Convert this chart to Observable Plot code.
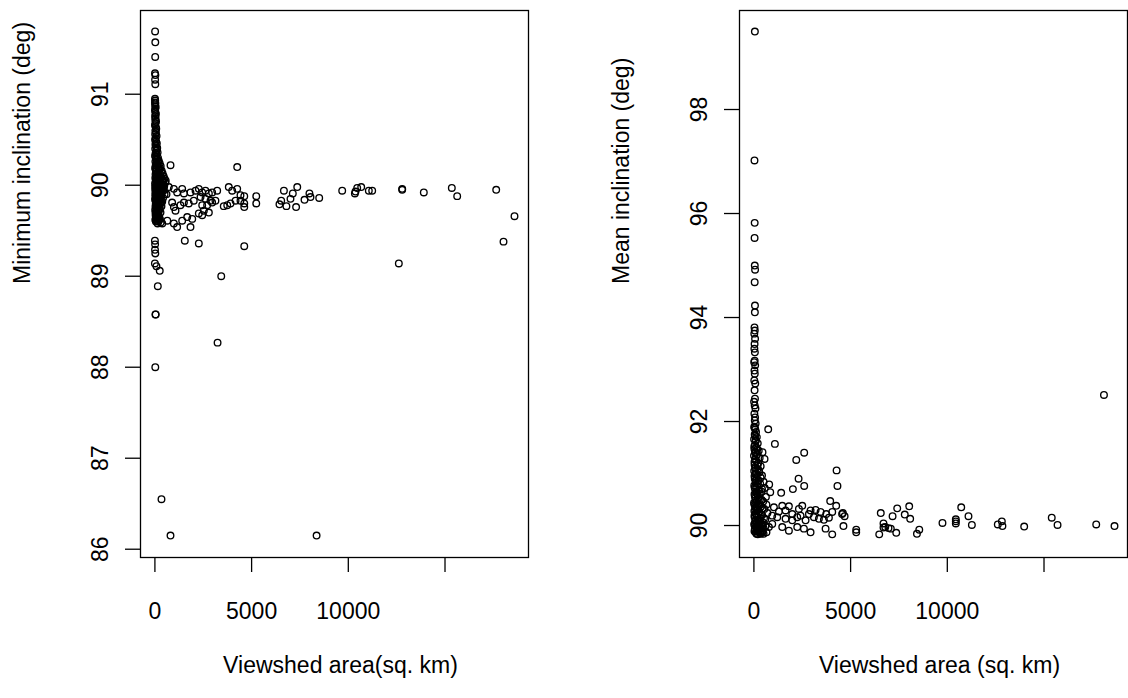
<!DOCTYPE html>
<html>
<head>
<meta charset="utf-8">
<script src="https://cdn.jsdelivr.net/npm/d3@7"></script>
<script src="https://cdn.jsdelivr.net/npm/@observablehq/plot@0.6"></script>
<style>
  html, body { margin: 0; padding: 0; background: #fff; }
  #wrap { display: flex; width: 1128px; height: 698px; overflow: hidden; }
</style>
</head>
<body>
<div id="wrap"></div>
<script>
// ---------- data (viewshed area in sq. km, inclination in degrees) ----------
const xTicks = [0, 5000, 10000, 15000];
const xTickLabels = [0, 5000, 10000];
const minTicks = [86, 87, 88, 89, 90, 91];
const meanTicks = [90, 92, 94, 96, 98];

// Left panel: dense column near zero area
const minColumn = [
  [5,90.95],[15,90.93],[8,90.91],[25,90.9],[12,90.88],[40,90.86],[20,90.84],[6,90.82],[30,90.8],[50,90.78],
  [10,90.76],[35,90.74],[18,90.72],[60,90.7],[28,90.68],[4,90.66],[45,90.64],[70,90.62],[22,90.6],[55,90.58],
  [14,90.56],[85,90.54],[38,90.52],[9,90.5],[65,90.48],[100,90.46],[26,90.45],[48,90.43],[120,90.41],[16,90.4],
  [75,90.38],[140,90.36],[34,90.35],[95,90.33],[7,90.32],[160,90.3],[58,90.29],[110,90.28],[200,90.27],[24,90.26],
  [80,90.25],[250,90.24],[130,90.23],[42,90.22],[300,90.21],[170,90.2],[11,90.19],[90,90.18],[220,90.17],[350,90.16],
  [60,90.15],[150,90.14],[400,90.13],[32,90.12],[270,90.12],[190,90.11],[450,90.1],[70,90.1],[120,90.09],[330,90.08],
  [20,90.08],[500,90.07],[240,90.06],[100,90.06],[380,90.05],[45,90.05],[160,90.04],[540,90.03],[290,90.03],[8,90.02],
  [210,90.02],[420,90.01],[75,90.01],[130,90.0],[350,90.0],[30,89.99],[480,89.99],[260,89.98],[180,89.98],[55,89.97],
  [400,89.97],[110,89.96],[310,89.96],[15,89.95],[230,89.95],[150,89.94],[440,89.94],[85,89.93],[370,89.93],[200,89.92],
  [40,89.92],[280,89.91],[120,89.9],[500,89.9],[60,89.89],[330,89.89],[170,89.88],[25,89.87],[250,89.87],[420,89.86],
  [95,89.86],[140,89.85],[300,89.84],[10,89.84],[220,89.83],[70,89.82],[380,89.82],[160,89.81],[45,89.8],[270,89.8],
  [110,89.79],[200,89.78],[30,89.77],[340,89.77],[130,89.76],[80,89.75],[240,89.74],[15,89.73],[180,89.72],[55,89.71],
  [290,89.7],[100,89.69],[150,89.68],[35,89.67],[210,89.66],[70,89.65],[120,89.64],[260,89.63],[20,89.62],[90,89.61],
  [180,89.6],[50,89.6],[300,89.59],[140,89.58],[380,89.58],[640,89.61],[600,89.9],[560,90.05],
  [60,90.31],[180,90.26],[90,90.21],[260,90.19],[40,90.17],[320,90.14],[130,90.13],[210,90.09],[60,90.07],[280,90.05],
  [440,90.04],[100,90.03],[200,90.0],[20,89.98],[330,89.98],[90,89.97],[150,89.96],[460,89.96],[250,89.94],[60,89.93],
  [120,89.92],[340,89.91],[20,89.9],[190,89.9],[80,89.88],[260,89.86],[40,89.85],[180,89.84],[110,89.83],[320,89.81],
  [60,89.79],[150,89.77],[250,89.76],[90,89.73],[200,89.71],[30,89.7],[130,89.66],[230,89.62],[60,89.63],[100,90.4]
];

// Left panel: spread points and outliers
const minSpread = [
  [720,89.98],[980,89.96],[1150,89.92],[1410,89.96],[1500,89.91],[1840,89.92],[2100,89.94],[2270,89.96],[2445,89.92],[2615,89.94],
  [2790,89.91],[2960,89.92],[3220,89.94],[2360,89.87],[2615,89.85],[2875,89.83],[2010,89.83],[1750,89.8],[1500,89.81],[1320,89.78],
  [980,89.76],[1065,89.72],[890,89.81],[2445,89.78],[2700,89.78],[2960,89.81],[3130,89.83],[2530,89.72],[2790,89.7],[2445,89.67],
  [2270,89.69],[1930,89.63],[1670,89.65],[1410,89.61],[1150,89.54],[980,89.58],[1840,89.54],[3820,89.98],[3995,89.94],[4255,89.96],
  [4425,89.89],[4170,89.83],[3910,89.8],[3740,89.78],[3560,89.77],[4425,89.83],[807,90.22],[4255,90.2],
  [4620,89.88],[4620,89.8],[4620,89.76],[5240,89.88],[5240,89.8],[6440,89.79],[6530,89.83],[6670,89.94],[6800,89.77],[7010,89.85],
  [7130,89.91],[7300,89.76],[7360,89.98],[7735,89.84],[7990,89.91],[8045,89.87],[8495,89.86],[9684,89.94],[10340,89.91],[10372,89.93],
  [10460,89.97],[10667,89.98],[11060,89.94],[11235,89.94],[12786,89.96],[12786,89.95],[12612,89.14],[13904,89.92],[15352,89.97],[15630,89.88],
  [17647,89.95],[18025,89.38],[18593,89.66],
  [4620,89.33],[1546,89.39],[2270,89.36],[3430,89.0],[3240,88.27],[8360,86.15],[806,86.15],[340,86.55],[20,88.0],[30,88.58],
  [40,88.58],[150,88.89],[250,89.06],[0,89.39],[10,89.35],[5,89.29],[20,89.25],[0,89.14],[80,89.11],
  [10,91.69],[20,91.57],[15,91.41],[5,91.23],[25,91.21],[10,91.16],[20,91.11]
];

// Right panel: dense column near zero area
const meanColumn = [
  [50,99.5],[30,97.02],[40,95.82],[35,95.53],[45,95.0],[60,94.92],[40,94.68],[55,94.23],[50,94.1],[30,93.81],
  [45,93.75],[20,93.69],[60,93.59],[35,93.49],[25,93.4],[50,93.33],[40,93.17],[15,93.14],[65,93.08],[30,92.98],
  [45,92.92],[20,92.79],[70,92.73],[35,92.6],[55,92.44],[10,92.38],[40,92.31],[80,92.25],[25,92.15],[60,92.08],
  [45,92.02],[90,91.96],[20,91.9],[70,91.85],[110,91.8],[40,91.75],[150,91.7],[10,91.66],[90,91.62],[200,91.58],
  [50,91.55],[130,91.5],[25,91.47],[250,91.44],[80,91.4],[170,91.37],[5,91.34],[300,91.3],[60,91.27],[120,91.24],
  [220,91.2],[35,91.17],[350,91.14],[100,91.11],[180,91.08],[15,91.05],[280,91.02],[70,90.99],[420,90.96],[140,90.93],
  [45,90.9],[240,90.87],[500,90.84],[95,90.82],[330,90.8],[20,90.77],[160,90.75],[560,90.72],[60,90.7],[260,90.68],
  [400,90.65],[110,90.63],[30,90.6],[200,90.58],[620,90.55],[80,90.53],[310,90.5],[150,90.48],[480,90.46],[10,90.44],
  [230,90.42],[650,90.4],[55,90.38],[360,90.36],[120,90.34],[540,90.32],[180,90.3],[25,90.28],[280,90.26],[700,90.24],
  [90,90.22],[430,90.2],[160,90.18],[40,90.16],[330,90.14],[590,90.12],[210,90.1],[70,90.08],[470,90.06],[130,90.05],
  [260,90.03],[15,90.02],[380,90.0],[600,89.99],[100,89.98],[200,89.96],[500,89.95],[50,89.94],[300,89.93],[150,89.91],
  [420,89.9],[30,89.89],[240,89.88],[650,89.87],[110,89.86],[350,89.85],[500,89.84],[200,89.83],
  [30,91.88],[60,91.72],[100,91.64],[20,91.52],[170,91.46],[60,91.42],[110,91.33],[30,91.22],[190,91.15],[60,91.1],
  [260,91.06],[120,91.0],[30,90.95],[350,90.92],[90,90.86],[200,90.81],[40,90.73],[420,90.7],[140,90.66],[300,90.61],
  [50,90.56],[230,90.52],[400,90.49],[110,90.45],[20,90.41],[300,90.39],[170,90.35],[450,90.33],[70,90.3],[250,90.27],
  [120,90.23],[360,90.21],[30,90.19],[200,90.15],[520,90.14],[90,90.11],[300,90.09],[160,90.06],[40,90.04],[420,90.03],
  [250,90.0],[120,89.97],[350,89.95],[60,89.92],[200,89.9],[450,89.88],[130,89.84],[300,89.87],[80,90.35],[150,90.62]
];

// Right panel: spread points and outliers
const meanSpread = [
  [740,91.85],[1085,91.57],[445,91.41],[550,91.28],[2190,91.26],[2600,91.4],[4275,91.06],[4320,90.76],[2310,90.9],[2600,90.76],
  [2015,90.7],[1410,90.63],[790,90.79],[845,90.64],[3945,90.47],[4255,90.38],[4600,90.24],[4690,90.18],[4630,89.99],
  [1034,90.35],[1465,90.38],[1810,90.37],[1293,90.27],[1637,90.29],[1982,90.22],[2327,90.32],[2500,90.38],[2930,90.29],[3190,90.3],
  [3447,90.26],[3740,90.22],[4050,90.26],[948,90.19],[1206,90.16],[1637,90.13],[1982,90.1],[2240,90.16],[2413,90.19],[2672,90.1],
  [2844,90.22],[3102,90.16],[3361,90.13],[3620,90.11],[3878,90.15],[1465,89.97],[1810,89.9],[2240,89.97],[2585,89.94],[2930,89.87],
  [3706,89.94],[4050,89.83],[948,90.03],[775,89.97],[430,89.87],[345,89.84],
  [18100,92.51],[4560,90.22],[5290,89.92],[5290,89.87],[6560,90.24],[6700,90.04],[6790,89.97],[6700,89.96],[6960,89.95],[7080,89.94],
  [6480,89.83],[7170,90.18],[7410,90.33],[7360,89.86],[7800,90.21],[8030,90.37],[8080,90.13],[8550,89.92],[8430,89.84],[9750,90.05],
  [10440,90.12],[10440,90.08],[10440,90.04],[10720,90.35],[11095,90.18],[11270,90.01],[12610,90.02],[12820,90.08],[12850,89.99],[13975,89.98],
  [15400,90.15],[15700,90.01],[17700,90.02],[18645,89.99]
];

// ---------- drawing ----------
const FONT = "'Liberation Sans', Arial, Helvetica, sans-serif";
const FS = 23;
const xDomain = [-745, 19317];

function panel({points, yDomain, yTicks, xLabel, yLabel, marginLeft, marginRight}) {
  return Plot.plot({
    width: 564,
    height: 698,
    marginTop: 10,
    marginBottom: 141,
    marginLeft,
    marginRight,
    style: {fontFamily: FONT, fontSize: FS + "px", background: "white", color: "black", overflow: "visible"},
    x: {domain: xDomain},
    y: {domain: yDomain},
    marks: [
      Plot.frame({stroke: "black", strokeWidth: 1.3}),
      Plot.axisX({ticks: xTicks, tickSize: 15, tickPadding: 30, strokeWidth: 1.3,
        tickFormat: d => xTickLabels.includes(d) ? String(d) : "", fontSize: FS, label: null}),
      Plot.axisY({ticks: yTicks, tickSize: 15, strokeWidth: 1.3, tickFormat: () => "", label: null}),
      Plot.text(yTicks, {y: d => d, text: d => String(d), frameAnchor: "left", dx: -40, rotate: -90,
        fontSize: FS, textAnchor: "middle", lineAnchor: "middle"}),
      Plot.text([xLabel], {text: d => d, frameAnchor: "bottom", dx: 6, dy: 108, fontSize: FS, lineAnchor: "middle"}),
      Plot.text([yLabel], {text: d => d, frameAnchor: "left", dx: -118, rotate: -90, fontSize: FS, lineAnchor: "middle"}),
      Plot.dot(points, {x: d => d[0], y: d => d[1], r: 3.3, stroke: "black", strokeWidth: 1.35, fill: "none"})
    ]
  });
}

const wrap = document.getElementById("wrap");
wrap.append(panel({
  points: minColumn.concat(minSpread),
  yDomain: [85.909, 91.92],
  yTicks: minTicks,
  xLabel: "Viewshed area(sq. km)",
  yLabel: "Minimum inclination (deg)",
  marginLeft: 140,
  marginRight: 36
}));
wrap.append(panel({
  points: meanColumn.concat(meanSpread),
  yDomain: [89.385, 99.904],
  yTicks: meanTicks,
  xLabel: "Viewshed area (sq. km)",
  yLabel: "Mean inclination (deg)",
  marginLeft: 175,
  marginRight: 1
}));
</script>
</body>
</html>
